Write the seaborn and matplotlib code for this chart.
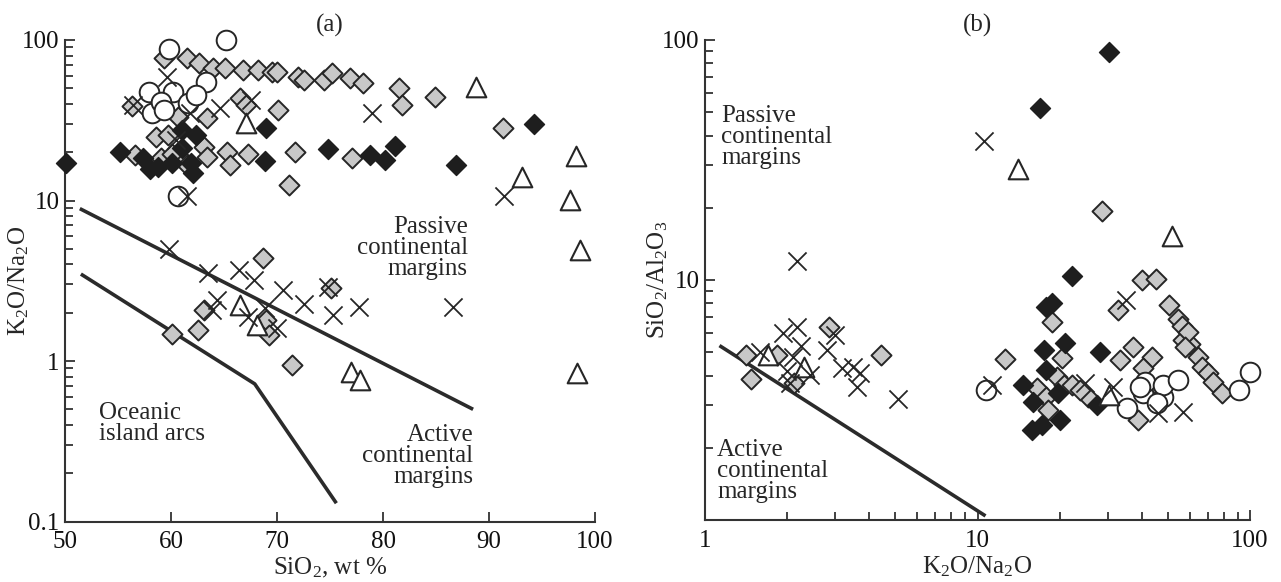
import matplotlib
matplotlib.use("Agg")
import matplotlib.pyplot as plt
from matplotlib.ticker import FixedLocator, FixedFormatter, LogLocator, NullFormatter, NullLocator
import seaborn as sns

# ---------------- Panel (a): SiO2 vs K2O/Na2O ----------------
a_gray_x = [59.3, 61.5, 62.6, 64.0, 65.1, 66.8, 68.2, 69.5, 70.0, 72.0, 72.5, 74.4, 75.2, 76.9,
            56.3, 66.5, 67.1, 70.1, 56.6, 65.3, 67.3, 71.7, 65.6, 71.1, 58.6, 59.1, 59.7, 61.2,
            63.1, 63.4, 60.7, 63.4, 61.5, 60.1,
            78.1, 81.5, 81.8, 84.9, 91.3, 77.1,
            68.7, 63.1, 60.1, 62.5, 69.0, 69.2, 75.1, 71.4]
a_gray_y = [76.9, 76.9, 71.6, 66.6, 66.6, 65.0, 65.0, 63.5, 63.5, 59.2, 56.4, 56.4, 62.0, 57.7,
            38.8, 43.4, 39.4, 36.6, 19.2, 20.1, 19.6, 20.1, 16.6, 12.5, 25.0, 18.3, 25.6, 17.6,
            21.6, 18.7, 33.0, 32.5, 16.6, 19.6,
            53.7, 50.0, 39.3, 44.3, 28.2, 18.5,
            4.37, 2.08, 1.47, 1.55, 1.80, 1.45, 2.86, 0.94]

a_black_x = [50.1, 55.2, 69.0, 68.9, 74.8, 57.4, 58.0, 58.8, 60.1, 61.0, 62.4, 62.1, 61.9, 61.0,
             94.2, 78.8, 80.2, 81.1, 86.9]
a_black_y = [17.1, 20.1, 28.2, 17.5, 21.0, 18.3, 15.8, 16.2, 17.1, 27.5, 25.6, 14.8, 17.1, 21.1,
             29.8, 19.2, 18.0, 21.8, 16.6]

a_circle_x = [65.2, 59.8, 57.9, 60.2, 63.3, 58.2, 61.6, 59.1, 62.4, 59.3, 60.7]
a_circle_y = [100.0, 87.9, 47.6, 47.6, 54.5, 34.9, 40.3, 41.3, 45.4, 36.6, 10.6]

a_tri_x = [67.1, 88.8, 98.2, 93.1, 97.6, 98.6, 66.5, 68.1, 77.0, 77.8, 98.3]
a_tri_y = [30.3, 51.2, 18.9, 14.1, 10.1, 4.9, 2.23, 1.67, 0.86, 0.76, 0.84]

a_cross_x = [59.6, 56.4, 64.6, 67.5, 61.5, 61.8, 60.5, 79.0, 91.4,
             59.8, 63.5, 66.4, 67.8, 70.6, 72.5, 74.8, 75.3, 64.3, 63.9, 67.3, 70.0, 68.9, 77.7, 86.6]
a_cross_y = [59.2, 39.4, 37.5, 42.3, 10.6, 34.9, 23.8, 34.9, 10.6,
             4.97, 3.55, 3.68, 3.20, 2.77, 2.26, 2.90, 1.94, 2.40, 2.08, 1.87, 1.60, 2.13, 2.18, 2.18]

# field boundaries
a_upper_x = [51.4, 88.5]
a_upper_y = [8.9, 0.5]
a_lower_x = [51.5, 67.9, 75.6]
a_lower_y = [3.48, 0.72, 0.13]

a_xticks = [50, 60, 70, 80, 90, 100]
a_yticks = [0.1, 1, 10, 100]
a_ytick_labels = ["0.1", "1", "10", "100"]

# ---------------- Panel (b): K2O/Na2O vs SiO2/Al2O3 ----------------
b_gray_x = [1.42, 1.48, 1.84, 2.13, 2.84, 4.41, 28.7, 18.7, 40.0, 45.2, 32.9, 50.6, 54.6, 56.1,
            56.9, 60.3, 64.6, 66.5, 70.3, 73.4, 78.8, 59.4, 57.7, 12.6, 20.5, 37.3, 33.3, 43.6,
            40.6, 16.5, 19.5, 20.7, 22.2, 17.9, 18.2, 25.5, 23.8, 38.9]
b_gray_y = [4.87, 3.86, 4.87, 3.73, 6.39, 4.87, 19.4, 6.70, 10.0, 10.1, 7.5, 7.87, 6.91, 6.43,
            5.62, 5.41, 4.80, 4.36, 4.08, 3.77, 3.37, 6.09, 5.27, 4.67, 4.72, 5.27, 4.64, 4.80,
            4.28, 3.54, 3.96, 3.65, 3.65, 3.27, 2.87, 3.27, 3.48, 2.61]

b_black_x = [30.5, 16.9, 22.2, 18.7, 17.9, 17.5, 20.9, 28.2, 17.9, 14.7, 16.0, 20.1, 15.8, 17.2,
             19.8, 27.4]
b_black_y = [89.4, 52.2, 10.4, 8.0, 7.74, 5.11, 5.44, 5.02, 4.22, 3.65, 3.11, 2.61, 2.37, 2.49,
             3.37, 3.01]

b_circle_x = [10.7, 35.3, 40.6, 41.2, 48.1, 48.1, 54.6, 39.5, 91.2, 100.0, 45.5]
b_circle_y = [3.48, 2.92, 3.37, 3.77, 3.27, 3.65, 3.83, 3.59, 3.48, 4.15, 3.06]

b_tri_x = [14.1, 51.6, 1.71, 2.30, 30.5]
b_tri_y = [28.9, 15.2, 4.87, 4.36, 3.32]

b_cross_x = [10.6, 2.18, 2.17, 1.94, 2.26, 3.0, 2.80, 1.59, 2.11, 2.0, 2.43, 3.17, 3.50, 3.71,
             3.60, 5.12, 2.05, 11.3, 35.2, 24.8, 31.5, 46.1, 57.0]
b_cross_y = [37.9, 12.0, 6.39, 6.04, 5.31, 5.90, 5.11, 5.03, 4.80, 4.16, 4.02, 4.28, 4.36, 4.08,
             3.59, 3.19, 3.71, 3.66, 8.25, 3.71, 3.59, 2.78, 2.82]

b_line_x = [1.13, 10.7]
b_line_y = [5.33, 1.04]

b_ticks = [1, 10, 100]
b_xtick_labels = ["1", "10", "100"]
b_ytick_labels = ["", "10", "100"]

# ---------------- style ----------------
sns.set_theme(style="ticks")
plt.rcParams["font.family"] = ["Liberation Serif", "DejaVu Serif"]
plt.rcParams["mathtext.fontset"] = "custom"
plt.rcParams["mathtext.rm"] = "Liberation Serif"
plt.rcParams["mathtext.it"] = "Liberation Serif:italic"
plt.rcParams["mathtext.bf"] = "Liberation Serif:bold"

FS = 18
INK = "#262626"
GRAY = "#c8c8c8"
BLACK = "#1e1e1e"

fig = plt.figure(figsize=(12.81, 5.82), dpi=100)
ax_a = fig.add_axes([65 / 1281, (582 - 521.5) / 582, 530 / 1281, 481.5 / 582])
ax_b = fig.add_axes([705 / 1281, (582 - 520) / 582, 545 / 1281, 480 / 582])


def draw_points(ax, x, y, kind, z):
    common = dict(ax=ax, zorder=z, legend=False, clip_on=False)
    if kind == "gray":
        sns.scatterplot(x=x, y=y, marker="D", s=104, color=GRAY,
                        edgecolor=INK, linewidth=1.4, **common)
    elif kind == "black":
        sns.scatterplot(x=x, y=y, marker="D", s=104, color=BLACK,
                        edgecolor=BLACK, linewidth=1.0, **common)
    elif kind == "circle":
        sns.scatterplot(x=x, y=y, marker="o", s=200, color="white",
                        edgecolor=INK, linewidth=1.4, **common)
    elif kind == "tri":
        sns.scatterplot(x=x, y=y, marker="^", s=200, color="white",
                        edgecolor=INK, linewidth=1.5, **common)
    elif kind == "cross":
        sns.scatterplot(x=x, y=y, marker="x", s=170, color=INK,
                        linewidth=1.3, **common)


def style_axes(ax):
    sns.despine(ax=ax)
    for side in ("left", "bottom"):
        ax.spines[side].set_linewidth(1.5)
        ax.spines[side].set_color("#333333")
    ax.tick_params(which="both", direction="in", color="#333333", width=1.3,
                   labelsize=FS, labelcolor="#111111")
    ax.tick_params(which="major", length=7)
    ax.tick_params(which="minor", length=6)
    ax.tick_params(axis="x", pad=7)
    ax.tick_params(axis="y", pad=4)
    ax.set_facecolor("white")


# ---- panel (a)
ax = ax_a
ax.plot(a_upper_x, a_upper_y, color="#2b2b2b", lw=2.6, zorder=2, solid_capstyle="butt")
ax.plot(a_lower_x, a_lower_y, color="#2b2b2b", lw=2.6, zorder=2, solid_capstyle="butt")
draw_points(ax, a_gray_x, a_gray_y, "gray", 3)
draw_points(ax, a_black_x, a_black_y, "black", 4)
draw_points(ax, a_circle_x, a_circle_y, "circle", 5)
draw_points(ax, a_tri_x, a_tri_y, "tri", 5)
draw_points(ax, a_cross_x, a_cross_y, "cross", 6)
ax.set_yscale("log")
ax.set_xlim(50, 100)
ax.set_ylim(0.1, 100)
ax.xaxis.set_major_locator(FixedLocator(a_xticks))
ax.xaxis.set_minor_locator(NullLocator())
ax.yaxis.set_major_locator(FixedLocator(a_yticks))
ax.yaxis.set_major_formatter(FixedFormatter(a_ytick_labels))
ax.yaxis.set_minor_locator(LogLocator(base=10, subs=range(2, 10)))
ax.yaxis.set_minor_formatter(NullFormatter())
style_axes(ax)
ax.set_xlabel(r"SiO$_2$, wt %", fontsize=FS, labelpad=2)
ax.set_ylabel(r"K$_2$O/Na$_2$O", fontsize=FS)
ax.yaxis.set_label_coords(-0.064, 0.5)
ax.set_title("(a)", fontsize=FS, pad=6)
ax.text(88.0, 5.06, "Passive\ncontinental\nmargins", fontsize=FS, ha="right", va="center",
        linespacing=0.95)
ax.text(88.5, 0.256, "Active\ncontinental\nmargins", fontsize=FS, ha="right", va="center",
        linespacing=0.95)
ax.text(53.2, 0.41, "Oceanic\nisland arcs", fontsize=FS, ha="left", va="center",
        linespacing=0.95)

# ---- panel (b)
ax = ax_b
ax.plot(b_line_x, b_line_y, color="#2b2b2b", lw=2.6, zorder=2, solid_capstyle="butt")
draw_points(ax, b_gray_x, b_gray_y, "gray", 3)
draw_points(ax, b_black_x, b_black_y, "black", 4)
draw_points(ax, b_circle_x, b_circle_y, "circle", 5)
draw_points(ax, b_tri_x, b_tri_y, "tri", 5)
draw_points(ax, b_cross_x, b_cross_y, "cross", 6)
ax.set_xscale("log")
ax.set_yscale("log")
ax.set_xlim(1, 100)
ax.set_ylim(1, 100)
ax.xaxis.set_major_locator(FixedLocator(b_ticks))
ax.xaxis.set_major_formatter(FixedFormatter(b_xtick_labels))
ax.yaxis.set_major_locator(FixedLocator(b_ticks))
ax.yaxis.set_major_formatter(FixedFormatter(b_ytick_labels))
for axis in (ax.xaxis, ax.yaxis):
    axis.set_minor_locator(LogLocator(base=10, subs=range(2, 10)))
    axis.set_minor_formatter(NullFormatter())
style_axes(ax)
ax.set_xlabel(r"K$_2$O/Na$_2$O", fontsize=FS, labelpad=2)
ax.set_ylabel(r"SiO$_2$/Al$_2$O$_3$", fontsize=FS)
ax.yaxis.set_label_coords(-0.064, 0.5)
ax.set_title("(b)", fontsize=FS, pad=6)
ax.text(1.145, 39.4, "Passive\ncontinental\nmargins", fontsize=FS, ha="left", va="center",
        linespacing=0.95)
ax.text(1.107, 1.60, "Active\ncontinental\nmargins", fontsize=FS, ha="left", va="center",
        linespacing=0.95)

fig.savefig("out.png", dpi=100, facecolor="white")
